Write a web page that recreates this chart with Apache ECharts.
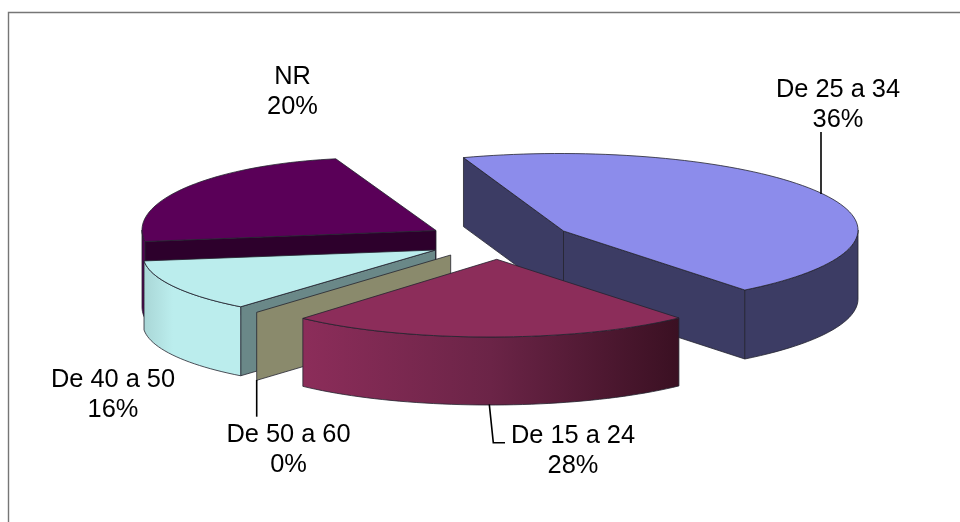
<!DOCTYPE html>
<html>
<head>
<meta charset="utf-8">
<style>html,body{margin:0;padding:0;background:#fff}#chart{width:960px;height:522px}</style>
<script src="https://cdn.jsdelivr.net/npm/echarts@6/dist/echarts.min.js"></script>
</head>
<body>
<div id="chart"></div>
<script>
// Age bands and their share of respondents, in percent.
const categories = ['De 25 a 34', 'De 15 a 24', 'De 50 a 60', 'De 40 a 50', 'NR'];
const shares = [36, 28, 0, 16, 20];
const percentLabels = ['36%', '28%', '0%', '16%', '20%'];

// Back-to-front painting order of the exploded wedges (indexes into categories).
const paintOrder = [4, 3, 0, 2, 1];

const FONT = '"Liberation Sans", Arial, sans-serif';

// Every wedge has its own view: apex, ellipse of the rim, where its rim begins
// (degrees, clockwise on screen), how much the perspective stretches its sweep,
// and which of its two cut faces (rim start, rim end) can be seen.
const views = [
  { apex: [563.5, 231], c: [560, 230], rx: 298, ry: 76.5, from: -108.9, stretch: 1.239, wall: 69,
    cuts: [true, true],
    top: '#8C8CEB', outer: '#3C3C64', cutA: '#3C3C64', cutB: '#3C3C64',
    label: [838, 90] },
  { apex: [496.7, 259.3], c: [490, 276], rx: 260, ry: 61, from: 43.4, stretch: 0.919, wall: 68,
    cuts: [false, false],
    top: '#8C2D5A',
    outer: { type: 'linear', x: 0, y: 0, x2: 1, y2: 0, colorStops: [
      { offset: 0, color: '#8C2D5A' }, { offset: 0.5, color: '#6B2447' }, { offset: 1, color: '#3A1022' }] },
    label: [573, 436] },
  { apex: [450.7, 255], c: [450.7, 255], rx: 194, ry: 57.3, from: 163.5, stretch: 1, wall: 68,
    rimEnd: [256.7, 312.3],
    top: '#8A8A6C',
    label: [288.5, 435] },
  { apex: [435.5, 250], c: [380, 255], rx: 237, ry: 64, from: 126, stretch: 0.845, wall: 69,
    cuts: [true, false],
    top: '#BBEDED', cutA: '#6A8888',
    outer: { type: 'linear', x: 0, y: 0, x2: 1, y2: 0, colorStops: [
      { offset: 0, color: '#A9D6D6' }, { offset: 0.3, color: '#BBEDED' }, { offset: 1, color: '#BBEDED' }] },
    label: [113, 380] },
  { apex: [436, 230.5], c: [370, 230], rx: 228, ry: 72, from: 170.8, stretch: 1.258, wall: 77,
    cuts: [true, false],
    top: '#5A0058', outer: '#520050', cutA: '#2D002C',
    label: [292.5, 77] }
];

// Leader lines from a label to the rim of its wedge.
const leaders = [
  [[821, 132], [821, 194]],
  [[489.3, 404.3], [493.3, 442.7], [505, 442.7]],
  [[256.7, 380], [256.7, 416.7]]
];

function arc(v, a0, a1) {
  const steps = Math.max(2, Math.ceil((a1 - a0) / 2));
  const pts = [];
  for (let i = 0; i <= steps; i++) {
    const a = (a0 + (a1 - a0) * i / steps) * Math.PI / 180;
    pts.push([v.c[0] + v.rx * Math.cos(a), v.c[1] + v.ry * Math.sin(a)]);
  }
  return pts;
}
const edge = { stroke: '#23232F', lineWidth: 0.8, lineJoin: 'round' };

function face(points, fill) {
  return { type: 'polygon', shape: { points }, style: Object.assign({ fill }, edge) };
}

function renderWedge(params, api) {
  const idx = api.value(0);
  const share = api.value(1);
  const v = views[idx];
  const down = (p) => [p[0], p[1] + v.wall];
  const children = [];

  if (share === 0) {
    // An empty wedge only shows its upright cut face.
    children.push(face([v.apex, v.rimEnd, down(v.rimEnd), down(v.apex)], v.top));
  } else {
    const end = v.from + share * 3.6 * v.stretch;
    const rim = arc(v, v.from, end);
    const first = rim[0], last = rim[rim.length - 1];
    if (v.cuts[1]) children.push(face([v.apex, last, down(last), down(v.apex)], v.cutB));
    if (v.cuts[0]) children.push(face([v.apex, first, down(first), down(v.apex)], v.cutA));
    // Only the near half of the curved wall faces the viewer.
    const a0 = Math.max(v.from, 0), a1 = Math.min(end, 180);
    if (a1 > a0) {
      const near = arc(v, a0, a1);
      children.push(face(near.concat(near.slice().reverse().map(down)), v.outer));
    }
    children.push(face([v.apex].concat(rim), v.top));
  }
  return { type: 'group', children };
}

function renderLabel(params, api) {
  const idx = api.value(0);
  const v = views[idx];
  return {
    type: 'text',
    z2: 50,
    style: {
      x: v.label[0], y: v.label[1] + 15,
      text: categories[idx] + '\n' + percentLabels[idx],
      fill: '#000', font: '25.4px ' + FONT, lineHeight: 30,
      align: 'center', verticalAlign: 'middle'
    }
  };
}

const rows = paintOrder.map((i) => [i, shares[i]]);
const chart = echarts.init(document.getElementById('chart'), null, { renderer: 'canvas' });
chart.setOption({
  animation: false,
  backgroundColor: '#fff',
  series: [
    { type: 'custom', coordinateSystem: 'none', data: rows, renderItem: renderWedge, z: 2, silent: true },
    {
      type: 'custom', coordinateSystem: 'none', data: leaders, z: 3, silent: true,
      renderItem: (params) => ({
        type: 'polyline',
        shape: { points: leaders[params.dataIndex] },
        style: { stroke: '#000', lineWidth: 1.6, fill: null }
      })
    },
    { type: 'custom', coordinateSystem: 'none', data: rows, renderItem: renderLabel, z: 4, silent: true },
    {
      // Frame running along the top and left of the plot.
      type: 'custom', coordinateSystem: 'none', data: [0], z: 1, silent: true,
      renderItem: () => ({
        type: 'polyline',
        shape: { points: [[8.5, 522], [8.5, 12.5], [960, 12.5]] },
        style: { stroke: '#767676', lineWidth: 1.4, fill: null }
      })
    }
  ]
});
</script>
</body>
</html>
